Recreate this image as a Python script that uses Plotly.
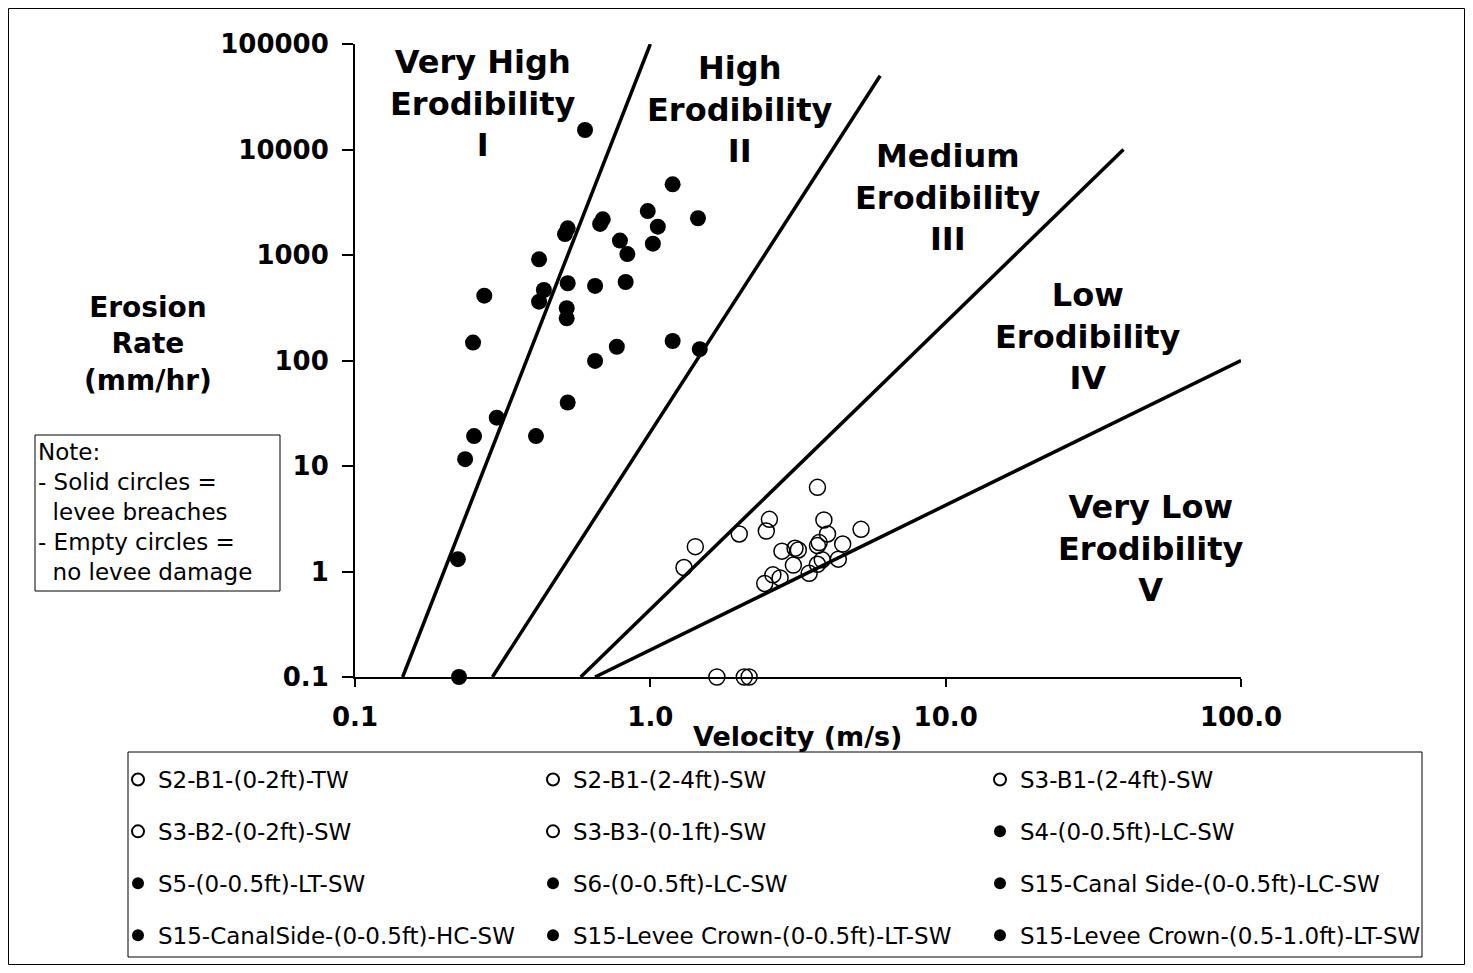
import plotly.graph_objects as go

# the page body adds an 8px margin, so the figure is drawn 8px in from the window edge
OFF = 8
W, H = 1473 - 2 * OFF, 973 - 2 * OFF
# plot area in window pixels
PL, PR, PT, PB = 355, 1241, 44, 677

# ---------------- data ----------------
x_tickvals = [0.1, 1, 10, 100]
x_ticktext = ["0.1", "1.0", "10.0", "100.0"]
y_tickvals = [0.1, 1, 10, 100, 1000, 10000, 100000]
y_ticktext = ["0.1", "1", "10", "100", "1000", "10000", "100000"]

# category boundary lines (velocity m/s, erosion rate mm/hr)
line_I_v = [0.145, 1.0]
line_I_e = [0.1, 100000]
line_II_v = [0.292, 6.0]
line_II_e = [0.1, 50000]
line_III_v = [0.581, 40.0]
line_III_e = [0.1, 10000]
line_IV_v = [0.650, 100.0]
line_IV_e = [0.1, 100]

# empty circles (no levee damage)
s2_b1_0_2_tw_v = [3.68, 2.53, 2.47, 3.87, 3.98]
s2_b1_0_2_tw_e = [6.28, 3.12, 2.42, 3.08, 2.27]
s2_b1_2_4_sw_v = [5.17, 2.00, 1.42, 1.30, 2.79]
s2_b1_2_4_sw_e = [2.51, 2.27, 1.72, 1.09, 1.56]
s3_b1_2_4_sw_v = [3.09, 3.17, 3.68, 3.73, 4.48]
s3_b1_2_4_sw_e = [1.66, 1.60, 1.76, 1.88, 1.82]
s3_b2_0_2_sw_v = [3.05, 3.82, 3.68, 4.33, 3.45]
s3_b2_0_2_sw_e = [1.15, 1.29, 1.17, 1.31, 0.96]
s3_b3_0_1_sw_v = [2.60, 2.75, 2.44, 1.68, 2.08, 2.16]
s3_b3_0_1_sw_e = [0.93, 0.87, 0.77, 0.1, 0.1, 0.1]

# solid circles (levee breaches)
s4_lc_v = [1.19, 0.98, 1.45, 1.06, 0.69]
s4_lc_e = [4680, 2610, 2230, 1855, 2180]
s5_lt_v = [0.676, 0.525, 0.514, 0.789, 1.02]
s5_lt_e = [1970, 1790, 1580, 1370, 1280]
s6_lc_v = [0.836, 0.42, 0.525, 0.65, 0.825]
s6_lc_e = [1020, 910, 540, 509, 555]
s15_canal_lc_v = [0.436, 0.42, 0.274, 0.521, 0.521]
s15_canal_lc_e = [466, 361, 412, 313, 251]
s15_canalside_hc_v = [0.251, 1.19, 0.77, 1.47, 0.65]
s15_canalside_hc_e = [148, 153, 135, 128, 99]
s15_crown_0_05_v = [0.525, 0.302, 0.601, 0.253]
s15_crown_0_05_e = [40, 28.7, 15300, 19.2]
s15_crown_05_10_v = [0.236, 0.41, 0.223, 0.225]
s15_crown_05_10_e = [11.6, 19.2, 1.31, 0.1]

series_names = [
    "S2-B1-(0-2ft)-TW", "S2-B1-(2-4ft)-SW", "S3-B1-(2-4ft)-SW",
    "S3-B2-(0-2ft)-SW", "S3-B3-(0-1ft)-SW", "S4-(0-0.5ft)-LC-SW",
    "S5-(0-0.5ft)-LT-SW", "S6-(0-0.5ft)-LC-SW", "S15-Canal Side-(0-0.5ft)-LC-SW",
    "S15-CanalSide-(0-0.5ft)-HC-SW", "S15-Levee Crown-(0-0.5ft)-LT-SW",
    "S15-Levee Crown-(0.5-1.0ft)-LT-SW",
]
series_v = [s2_b1_0_2_tw_v, s2_b1_2_4_sw_v, s3_b1_2_4_sw_v, s3_b2_0_2_sw_v, s3_b3_0_1_sw_v,
            s4_lc_v, s5_lt_v, s6_lc_v, s15_canal_lc_v, s15_canalside_hc_v,
            s15_crown_0_05_v, s15_crown_05_10_v]
series_e = [s2_b1_0_2_tw_e, s2_b1_2_4_sw_e, s3_b1_2_4_sw_e, s3_b2_0_2_sw_e, s3_b3_0_1_sw_e,
            s4_lc_e, s5_lt_e, s6_lc_e, s15_canal_lc_e, s15_canalside_hc_e,
            s15_crown_0_05_e, s15_crown_05_10_e]
series_solid = [False, False, False, False, False, True, True, True, True, True, True, True]

region_labels = [
    "Very High<br>Erodibility<br>I",
    "High<br>Erodibility<br>II",
    "Medium<br>Erodibility<br>III",
    "Low<br>Erodibility<br>IV",
    "Very Low<br>Erodibility<br>V",
]
note_text = ("Note:<br>- Solid circles =<br>\u00a0\u00a0levee breaches<br>"
             "- Empty circles =<br>\u00a0\u00a0no levee damage")

# ---------------- helpers (layout only) ----------------
def pxx(px):
    return (px - PL) / (PR - PL)

def pxy(py):
    return (PB - py) / (PB - PT)

FONT = "DejaVu Sans"
fig = go.Figure()

for lv, le in [(line_I_v, line_I_e), (line_II_v, line_II_e),
               (line_III_v, line_III_e), (line_IV_v, line_IV_e)]:
    fig.add_trace(go.Scatter(x=lv, y=le, mode="lines", line=dict(color="black", width=3.5),
                             showlegend=False, hoverinfo="skip", cliponaxis=False))

legend_ids = ["legend", "legend2", "legend3"]
for i, (name, v, e, solid) in enumerate(zip(series_names, series_v, series_e, series_solid)):
    if solid:
        marker = dict(symbol="circle", size=16, color="black", line=dict(width=0))
    else:
        marker = dict(symbol="circle-open", size=16, color="black", line=dict(width=1.5))
    fig.add_trace(go.Scatter(x=v, y=e, mode="markers", name=name, marker=marker,
                             legend=legend_ids[i % 3], legendgroup=name, cliponaxis=False))

label_pos = [(483, 103), (740, 110), (948, 197), (1088, 336), (1151, 548)]
annotations = []
for txt, (px, py) in zip(region_labels, label_pos):
    annotations.append(dict(text=txt, xref="paper", yref="paper", x=pxx(px), y=pxy(py),
                            xanchor="center", yanchor="middle", showarrow=False,
                            font=dict(family=FONT, size=32, color="black", weight="bold")))
annotations.append(dict(text="Erosion<br>Rate<br>(mm/hr)", xref="paper", yref="paper",
                        x=pxx(148), y=pxy(344), xanchor="center", yanchor="middle",
                        showarrow=False,
                        font=dict(family=FONT, size=28, color="black", weight="bold")))
annotations.append(dict(text="Velocity (m/s)", xref="paper", yref="paper",
                        x=pxx(797), y=pxy(736), xanchor="center", yanchor="middle",
                        showarrow=False,
                        font=dict(family=FONT, size=27, color="black", weight="bold")))
annotations.append(dict(text=note_text, xref="paper", yref="paper", align="left",
                        x=pxx(36), y=pxy(512), xanchor="left", yanchor="middle",
                        showarrow=False,
                        font=dict(family=FONT, size=23, color="black")))

def rect(x0, y0, x1, y1, w=1):
    return dict(type="rect", xref="paper", yref="paper", x0=pxx(x0), x1=pxx(x1),
                y0=pxy(y0), y1=pxy(y1), line=dict(color="black", width=w))

shapes = [rect(35, 435, 280, 591), rect(128, 752, 1422, 957),
          rect(OFF + 0.5, OFF + 0.5, 1473 - OFF - 0.5, 973 - OFF - 0.5)]

leg_common = dict(orientation="v", xanchor="left", yanchor="top", bgcolor="rgba(0,0,0,0)",
                  borderwidth=0, tracegroupgap=19, itemsizing="constant",
                  font=dict(family=FONT, size=23, color="black"))
leg_y = pxy(758)

fig.update_layout(
    width=W, height=H,
    margin=dict(l=PL - OFF, r=(1473 - OFF) - PR, t=PT - OFF, b=(973 - OFF) - PB, pad=0,
                autoexpand=False),
    paper_bgcolor="white", plot_bgcolor="white",
    font=dict(family=FONT, color="black"),
    xaxis=dict(type="log", range=[-1, 2], tickvals=x_tickvals, ticktext=x_ticktext,
               showgrid=False, zeroline=False, showline=True, linecolor="black", linewidth=2,
               ticks="outside", ticklen=8, tickwidth=2, tickcolor="black", ticklabelstandoff=8,
               tickfont=dict(family=FONT, size=26, color="black", weight="bold")),
    yaxis=dict(type="log", range=[-1, 5], tickvals=y_tickvals, ticktext=y_ticktext,
               showgrid=False, zeroline=False, showline=True, linecolor="black", linewidth=2,
               ticks="outside", ticklen=11, tickwidth=2, tickcolor="black", ticklabelstandoff=8,
               tickfont=dict(family=FONT, size=26, color="black", weight="bold")),
    legend=dict(x=pxx(118), y=leg_y, **leg_common),
    legend2=dict(x=pxx(533), y=leg_y, **leg_common),
    legend3=dict(x=pxx(980), y=leg_y, **leg_common),
    annotations=annotations,
    shapes=shapes,
    showlegend=True,
)

fig.write_html("out.html")
